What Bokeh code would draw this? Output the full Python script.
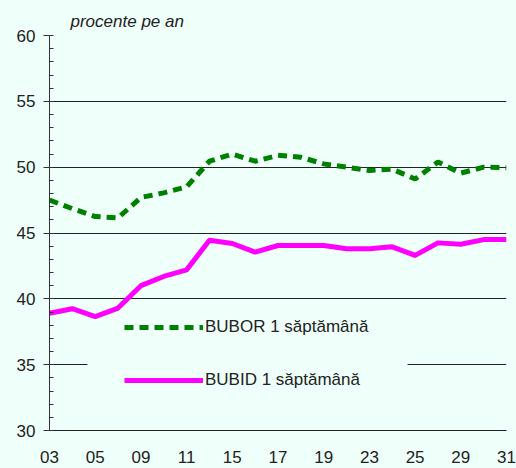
from bokeh.plotting import figure
from bokeh.models import FixedTicker, SingleIntervalTicker, Legend, LegendItem, BoxAnnotation, Range1d
from bokeh.embed import file_html
from bokeh.resources import INLINE

# Business days of the month (x axis), every second one labelled
days = ["03", "04", "05", "08", "09", "10", "11", "12", "15", "16", "17",
        "18", "19", "22", "23", "24", "25", "26", "29", "30", "31"]
labelled_days = ["03", "05", "09", "11", "15", "17", "19", "23", "25", "29", "31"]

# percent per year
bubor = [47.5, 46.85, 46.25, 46.15, 47.7, 48.05, 48.5, 50.45, 51.0, 50.45, 50.9,
         50.75, 50.25, 50.0, 49.75, 49.85, 49.1, 50.4, 49.55, 50.0, 49.95]
bubid = [38.9, 39.25, 38.65, 39.3, 41.0, 41.7, 42.2, 44.45, 44.2, 43.55, 44.05,
         44.05, 44.05, 43.8, 43.8, 43.95, 43.3, 44.25, 44.15, 44.5, 44.5]

series_names = ["BUBOR 1 săptămână", "BUBID 1 săptămână"]
unit_label = "procente pe an"

BG = "#effffa"
FONT = "Liberation Sans"
TXT = "#222222"

x = list(range(len(days)))

p = figure(width=516, height=468, output_backend="svg", toolbar_location=None,
           x_range=Range1d(0, len(days) - 1), y_range=Range1d(30, 60),
           min_border_left=49, min_border_right=10, min_border_top=35,
           min_border_bottom=38)
p.background_fill_color = BG
p.border_fill_color = BG
p.outline_line_color = None

p.title.text = unit_label
p.title.text_font = FONT
p.title.text_font_style = "italic"
p.title.text_font_size = "17px"
p.title.text_color = TXT
p.title.align = "left"
p.title.offset = 21
p.title.standoff = 10

# y axis
p.yaxis.ticker = SingleIntervalTicker(interval=5, num_minor_ticks=5)
p.yaxis.major_tick_out = 6
p.yaxis.major_tick_in = 0
p.yaxis.minor_tick_in = 4
p.yaxis.minor_tick_out = 0
p.yaxis.axis_line_color = "#333333"
p.yaxis.major_tick_line_color = "#333333"
p.yaxis.minor_tick_line_color = "#333333"
p.yaxis.major_label_text_font = FONT
p.yaxis.major_label_text_font_size = "17px"
p.yaxis.major_label_text_color = TXT
p.yaxis.major_label_standoff = 8

# x axis
tick_idx = [i for i, d in enumerate(days) if d in labelled_days]
p.xaxis.ticker = FixedTicker(ticks=tick_idx)
p.xaxis.major_label_overrides = {i: days[i] for i in tick_idx}
p.xaxis.major_tick_out = 0
p.xaxis.major_tick_in = 0
p.xaxis.minor_tick_out = 0
p.xaxis.minor_tick_in = 0
p.xaxis.axis_line_color = "#222222"
p.xaxis.major_label_text_font = FONT
p.xaxis.major_label_text_font_size = "17px"
p.xaxis.major_label_text_color = TXT
p.xaxis.major_label_standoff = 20

p.xgrid.grid_line_color = None
p.ygrid.grid_line_color = "#222222"
p.ygrid.grid_line_width = 1

# mask the gridline behind the legend
p.add_layout(BoxAnnotation(left=1.66, right=15.67, bottom=34.4, top=35.6,
                           fill_color=BG, fill_alpha=1.0, line_alpha=0))

r1 = p.line(x, bubor, line_color="#008000", line_width=5, line_dash="9 6")
r2 = p.line(x, bubid, line_color="#ff00ff", line_width=5, line_join="round")

legend = Legend(items=[LegendItem(label=series_names[0], renderers=[r1]),
                       LegendItem(label=series_names[1], renderers=[r2])],
                location=(75, 40), orientation="vertical",
                background_fill_alpha=0, border_line_color=None,
                padding=0, margin=0, spacing=33,
                glyph_width=79, glyph_height=20, label_height=20,
                label_standoff=2, label_text_font=FONT,
                label_text_font_size="17px", label_text_color=TXT)
p.add_layout(legend)

html = file_html(p, INLINE)
html = html.replace("<head>", "<head><style>body{background-color:#effffa;}</style>", 1)
open("out.html", "w").write(html)
